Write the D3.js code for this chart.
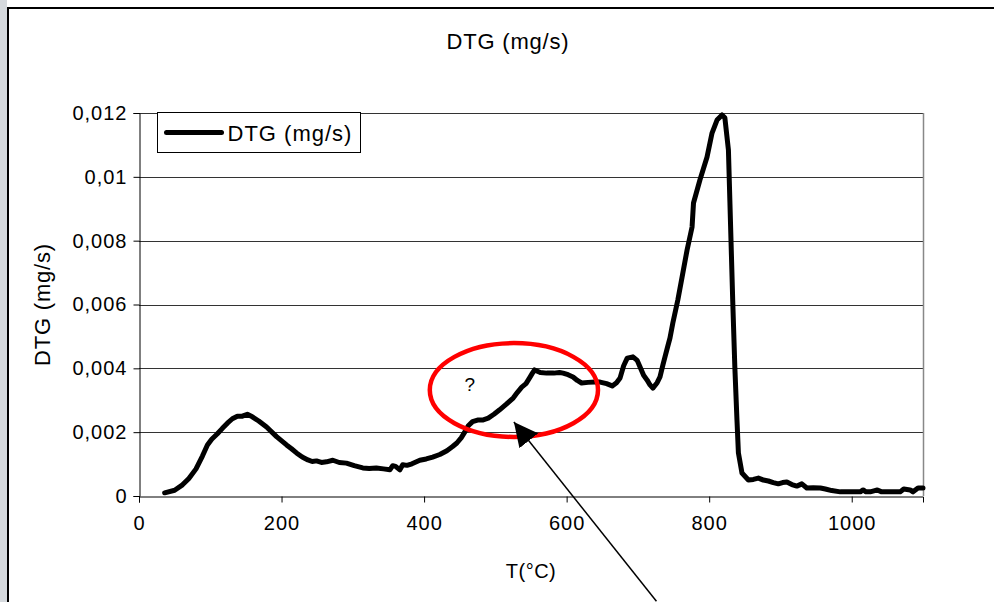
<!DOCTYPE html>
<html>
<head>
<meta charset="utf-8">
<script src="https://cdn.jsdelivr.net/npm/d3@7"></script>
<style>
  body { margin: 0; background: #fff; }
  svg { display: block; font-family: "Liberation Sans", Arial, sans-serif; }
</style>
</head>
<body>
<div id="chart"></div>
<script>
// DTG curve: temperature (°C) and DTG (mg/s)
var temps = [36, 50, 61, 70, 80, 89, 96, 102, 110, 117, 124, 131, 138, 145, 152, 159, 168, 179, 193, 207,
  214, 221, 229, 237, 243, 249, 256, 263, 272, 281, 291, 302, 314, 323, 333, 343, 352, 356, 360, 366,
  370, 376, 383, 394, 403, 412, 422, 432, 440, 446, 452, 457, 462, 468, 475, 482, 490, 498, 506, 515,
  525, 531, 537, 543, 548, 552, 555, 563, 572, 582, 590, 595, 602, 609, 615, 621, 630, 640, 647, 656,
  664, 670, 675, 680, 685, 693, 699, 703, 708, 713, 717, 721, 727, 731, 735, 738, 742, 745, 749, 756,
  762, 769, 776, 778, 787, 797, 804, 811, 818, 822, 827, 829, 833, 836, 839, 841, 846, 855, 862, 869,
  876, 883, 890, 897, 903, 909, 916, 923, 930, 937, 946, 956, 963, 972, 984, 1000, 1012, 1016, 1020, 1026,
  1036, 1042, 1050, 1060, 1068, 1073, 1082, 1086, 1093, 1100];
var dtg = [0.00010, 0.00018, 0.00035, 0.00055, 0.00085, 0.00125, 0.0016, 0.00178, 0.00195, 0.00212, 0.00228, 0.00242, 0.0025, 0.0025, 0.00256, 0.00248, 0.00235, 0.00216, 0.00186, 0.0016,
  0.00148, 0.00135, 0.00122, 0.00113, 0.00108, 0.0011, 0.00105, 0.00107, 0.00112, 0.00105, 0.00103, 0.00095, 0.00088, 0.00086, 0.00088, 0.00085, 0.00082, 0.00095, 0.00093, 0.00082,
  0.00098, 0.00096, 0.00101, 0.00112, 0.00116, 0.00122, 0.0013, 0.00142, 0.00155, 0.00166, 0.00182, 0.002, 0.0022, 0.00233, 0.00238, 0.00238, 0.00244, 0.00256, 0.0027, 0.00287,
  0.00307, 0.00325, 0.00341, 0.00352, 0.0037, 0.00385, 0.00395, 0.00387, 0.00385, 0.00385, 0.00387, 0.00385, 0.0038, 0.00373, 0.00362, 0.00354, 0.00356, 0.00357, 0.00357, 0.00352,
  0.00345, 0.00355, 0.0037, 0.00408, 0.00432, 0.00436, 0.00425, 0.00404, 0.00378, 0.00363, 0.00348, 0.00338, 0.00355, 0.00373, 0.0041, 0.00436, 0.0047, 0.00495, 0.00542, 0.00614,
  0.00686, 0.00771, 0.00843, 0.00918, 0.0099, 0.01062, 0.01137, 0.01178, 0.01194, 0.01185, 0.01084, 0.00927, 0.00614, 0.00404, 0.00238, 0.00135, 0.00072, 0.0005, 0.00052, 0.00056,
  0.0005, 0.00047, 0.00042, 0.00038, 0.00042, 0.00044, 0.00036, 0.00031, 0.00038, 0.00025, 0.00026, 0.00025, 0.00022, 0.00017, 0.00013, 0.00013, 0.00013, 0.00019, 0.00013, 0.00013,
  0.00019, 0.00013, 0.00013, 0.00013, 0.00013, 0.00022, 0.00019, 0.00013, 0.00025, 0.00025];

var xTicks = [0, 200, 400, 600, 800, 1000];
var yTicks = [0, 0.002, 0.004, 0.006, 0.008, 0.01, 0.012];

// annotation (red ring, "?" and arrow), given in data units
var ring = { t: 526, v: 0.00332, rt: 118, rv: 0.00147 };
var arrowFrom = { t: 726, v: -0.0033 };
var arrowTo = { t: 526, v: 0.00232 };

var width = 994, height = 602;
var margin = { top: 113, right: 71, bottom: 106, left: 139 };

var svg = d3.select("#chart").append("svg")
  .attr("width", width)
  .attr("height", height);

// window frame like the original screenshot
svg.append("rect").attr("x", 0).attr("y", 0).attr("width", 7).attr("height", height).attr("fill", "#d5d9dd");
svg.append("rect").attr("x", 8).attr("y", 8).attr("width", width + 20).attr("height", height + 20)
  .attr("fill", "none").attr("stroke", "#000").attr("stroke-width", 2);

var x = d3.scaleLinear().domain([0, 1100]).range([margin.left, width - margin.right]);
var y = d3.scaleLinear().domain([0, 0.012]).range([height - margin.bottom, margin.top]);

// gridlines
svg.append("g")
  .selectAll("line")
  .data(yTicks.slice(1))
  .enter()
  .append("line")
  .attr("x1", x(0)).attr("x2", x(1100))
  .attr("y1", function (d) { return Math.round(y(d)) + 0.5; })
  .attr("y2", function (d) { return Math.round(y(d)) + 0.5; })
  .attr("stroke", "#333").attr("stroke-width", 1);

// plot area right border
svg.append("line")
  .attr("x1", Math.round(x(1100)) + 0.5).attr("x2", Math.round(x(1100)) + 0.5)
  .attr("y1", y(0.012)).attr("y2", y(0))
  .attr("stroke", "#888").attr("stroke-width", 1.5);

// axes
var fmt = function (d) { return d === 0 ? "0" : String(+d.toFixed(3)).replace(".", ","); };

var yAxis = svg.append("g")
  .attr("transform", "translate(" + (Math.round(x(0)) + 0.5) + ",0)")
  .call(d3.axisLeft(y).tickValues(yTicks).tickFormat(fmt).tickSize(6).tickPadding(6));
var xAxis = svg.append("g")
  .attr("transform", "translate(0," + (Math.round(y(0)) + 0.5) + ")")
  .call(d3.axisBottom(x).tickValues(xTicks).tickFormat(d3.format("d")).tickSize(6).tickPadding(13));

[yAxis, xAxis].forEach(function (a) {
  a.select(".domain").attr("stroke", "#000");
  a.selectAll(".tick line").attr("stroke", "#000");
  a.selectAll(".tick text").attr("fill", "#000").style("font-size", "20px")
    .style("letter-spacing", "1px")
    .style("font-family", "'Liberation Sans', Arial, sans-serif");
});

// the curve
var line = d3.line()
  .x(function (d) { return x(d[0]); })
  .y(function (d) { return y(d[1]); });

svg.append("path")
  .datum(d3.zip(temps, dtg))
  .attr("fill", "none")
  .attr("stroke", "#000")
  .attr("stroke-width", 5)
  .attr("stroke-linejoin", "round")
  .attr("stroke-linecap", "round")
  .attr("d", line);

// titles
svg.append("text").attr("x", 508).attr("y", 49).attr("text-anchor", "middle")
  .style("font-size", "22px").style("letter-spacing", "0.8px").text("DTG (mg/s)");
svg.append("text").attr("x", 531).attr("y", 578).attr("text-anchor", "middle")
  .style("font-size", "20px").style("letter-spacing", "0.5px").text("T(°C)");
svg.append("text")
  .attr("transform", "translate(50," + ((y(0) + y(0.012)) / 2) + ") rotate(-90)")
  .attr("text-anchor", "middle")
  .style("font-size", "22px").style("letter-spacing", "0.8px").text("DTG (mg/s)");

// legend
var leg = svg.append("g").attr("transform", "translate(157.5,112.5)");
leg.append("rect").attr("width", 203).attr("height", 40).attr("fill", "#fff").attr("stroke", "#000").attr("stroke-width", 1);
leg.append("line").attr("x1", 9).attr("x2", 64).attr("y1", 20).attr("y2", 20)
  .attr("stroke", "#000").attr("stroke-width", 5).attr("stroke-linecap", "round");
leg.append("text").attr("x", 70).attr("y", 28).style("font-size", "22px").style("letter-spacing", "1px").text("DTG (mg/s)");

// annotation
svg.append("ellipse")
  .attr("cx", x(ring.t)).attr("cy", y(ring.v))
  .attr("rx", x(ring.rt) - x(0)).attr("ry", y(0) - y(ring.rv))
  .attr("fill", "none").attr("stroke", "#f00").attr("stroke-width", 4.5);
svg.append("text").attr("x", x(ring.t) - 44).attr("y", y(ring.v) + 1)
  .attr("text-anchor", "middle").style("font-size", "19px").text("?");

svg.append("defs").append("marker")
  .attr("id", "head").attr("viewBox", "0 0 10 10").attr("refX", 10).attr("refY", 5)
  .attr("markerWidth", 24).attr("markerHeight", 24).attr("markerUnits", "userSpaceOnUse")
  .attr("orient", "auto")
  .append("path").attr("d", "M0,0 L10,5 L0,10 Z").attr("fill", "#000");
svg.append("line")
  .attr("x1", x(arrowFrom.t)).attr("y1", y(arrowFrom.v))
  .attr("x2", x(arrowTo.t)).attr("y2", y(arrowTo.v))
  .attr("stroke", "#000").attr("stroke-width", 1.5)
  .attr("marker-end", "url(#head)");
</script>
</body>
</html>
